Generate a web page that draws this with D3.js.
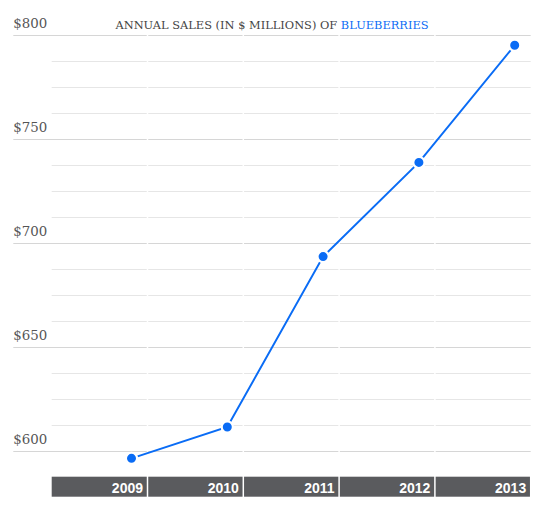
<!DOCTYPE html>
<html>
<head>
<meta charset="utf-8">
<script src="https://cdn.jsdelivr.net/npm/d3@7/dist/d3.min.js"></script>
<style>
  body { margin: 0; background: #fff; }
  svg { display: block; }
</style>
</head>
<body>
<svg id="chart" width="545" height="530"></svg>
<script>
// data
var years = ["2009", "2010", "2011", "2012", "2013"];
var sales = [596.6, 611.7, 693.6, 738.9, 795.2];
var majorTicks = [600, 650, 700, 750, 800];
var minorTicks = d3.range(600, 800.1, 12.5);

var svg = d3.select("#chart");

var plotLeft = 51.7, plotRight = 530.7, plotTop = 35.3, plotBottom = 477.3;

var x = d3.scaleBand()
	.domain(years)
	.range([plotLeft, plotRight]);

var y = d3.scaleLinear()
	.domain([587.5, 800])
	.range([plotBottom, plotTop]);

// minor gridlines
svg.append("g")
	.selectAll("line")
	.data(minorTicks.filter(function(d) { return majorTicks.indexOf(d) < 0; }))
	.enter()
	.append("line")
		.attr("x1", plotLeft)
		.attr("x2", plotRight)
		.attr("y1", function(d) { return Math.round(y(d)) + 0.5; })
		.attr("y2", function(d) { return Math.round(y(d)) + 0.5; })
		.attr("stroke", "#e6e6e6")
		.attr("stroke-width", 1);

// major gridlines with labels
var major = svg.append("g")
	.selectAll("g")
	.data(majorTicks)
	.enter()
	.append("g");

major.append("line")
	.attr("x1", 13.3)
	.attr("x2", plotRight)
	.attr("y1", function(d) { return Math.round(y(d)) + 0.5; })
	.attr("y2", function(d) { return Math.round(y(d)) + 0.5; })
	.attr("stroke", "#d6d6d6")
	.attr("stroke-width", 1);

major.append("text")
	.attr("x", 13.3)
	.attr("y", function(d) { return y(d) - 7; })
	.attr("font-family", "Georgia, 'DejaVu Serif', serif")
	.attr("font-size", 13.5)
	.attr("fill", "#555")
	.attr("textLength", 34)
	.attr("lengthAdjust", "spacingAndGlyphs")
	.text(function(d) { return "$" + d; });

// white separators between the year columns
svg.append("g")
	.selectAll("line")
	.data(years.slice(1))
	.enter()
	.append("line")
		.attr("x1", function(d) { return x(d); })
		.attr("x2", function(d) { return x(d); })
		.attr("y1", plotTop - 1)
		.attr("y2", 500)
		.attr("stroke", "#fff")
		.attr("stroke-width", 1.5);

// year bar at the bottom
var cells = svg.append("g")
	.selectAll("g")
	.data(years)
	.enter()
	.append("g");

cells.append("rect")
	.attr("x", function(d) { return x(d) + (d === years[0] ? 0 : 0.75); })
	.attr("y", plotBottom - 0.6)
	.attr("width", function(d) { return x.bandwidth() - (d === years[0] ? 0.75 : 1.5); })
	.attr("height", 20)
	.attr("fill", "#5a5b5e");

cells.append("text")
	.attr("x", function(d) { return x(d) + x.bandwidth() - 4.5; })
	.attr("y", 493.3)
	.attr("text-anchor", "end")
	.attr("font-family", "Arial, 'Liberation Sans', sans-serif")
	.attr("font-weight", "bold")
	.attr("font-size", 14)
	.attr("fill", "#fff")
	.text(function(d) { return d; });

// points sit near the right end of each column
function px(d, i) { return x(years[i]) + x.bandwidth() - 16; }

var line = d3.line()
	.x(function(d, i) { return px(d, i); })
	.y(function(d) { return y(d); });

svg.append("path")
	.datum(sales)
	.attr("d", line)
	.attr("fill", "none")
	.attr("stroke", "#0a6cf5")
	.attr("stroke-width", 2);

svg.append("g")
	.selectAll("circle")
	.data(sales)
	.enter()
	.append("circle")
		.attr("cx", function(d, i) { return px(d, i); })
		.attr("cy", function(d) { return y(d); })
		.attr("r", 5.6)
		.attr("fill", "#0a6cf5")
		.attr("stroke", "#fff")
		.attr("stroke-width", 2.2);

// title
var title = svg.append("text")
	.attr("x", 272)
	.attr("y", 29)
	.attr("text-anchor", "middle")
	.attr("font-family", "Georgia, 'DejaVu Serif', serif")
	.attr("font-size", 11.4);

title.append("tspan")
	.attr("fill", "#444")
	.text("ANNUAL SALES (IN $ MILLIONS) OF ");

title.append("tspan")
	.attr("fill", "#0a6cf5")
	.text("BLUEBERRIES");
</script>
</body>
</html>
